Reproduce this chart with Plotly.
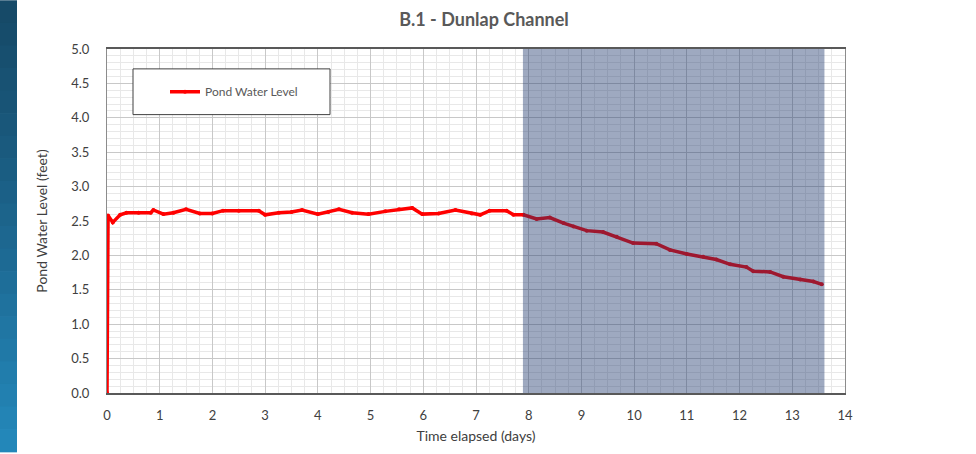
"""Nível de água da lagoa - B.1 Dunlap Channel."""
import plotly.graph_objects as go

# dias decorridos e nível (pés)
days = [0.0, 0.02, 0.11, 0.25, 0.37, 0.6, 0.83, 0.88, 1.07, 1.26, 1.5, 1.76,
        2.0, 2.2, 2.5, 2.88, 3.0, 3.26, 3.5, 3.7, 4.0, 4.2, 4.4, 4.65, 4.96,
        5.28, 5.54, 5.79, 5.98, 6.29, 6.61, 6.92, 7.08, 7.26, 7.58, 7.71,
        7.9, 8.15, 8.4, 8.66, 8.85, 9.1, 9.41, 9.67, 9.98, 10.42, 10.68,
        11.0, 11.31, 11.56, 11.82, 12.13, 12.26, 12.58, 12.83, 13.15, 13.4,
        13.56]
level = [0.0, 2.58, 2.48, 2.59, 2.62, 2.62, 2.62, 2.66, 2.60, 2.62, 2.67, 2.61,
         2.61, 2.65, 2.65, 2.65, 2.59, 2.62, 2.63, 2.66, 2.60, 2.63, 2.67, 2.62,
         2.60, 2.64, 2.67, 2.69, 2.60, 2.61, 2.66, 2.61, 2.59, 2.65, 2.65,
         2.59, 2.59, 2.53, 2.55, 2.47, 2.42, 2.36, 2.34, 2.27, 2.18, 2.17,
         2.08, 2.02, 1.98, 1.94, 1.87, 1.83, 1.77, 1.76, 1.69, 1.65, 1.62,
         1.58]

# período destacado (dias)
shade_start = 7.89
shade_end = 13.61

# faixa azul do slide, de cima para baixo
strip_colors = ["#164a68", "#164c6b", "#174f6f", "#185273", "#185476",
                "#19577a", "#1a5a7e", "#1a5d82", "#1b6087", "#1c648b",
                "#1d6790", "#1d6a94", "#1e6e99", "#1f729e", "#2076a3",
                "#2079a7", "#217dac", "#2280b0", "#2384b5", "#2387b9"]

fig = go.Figure()
fig.add_trace(go.Scatter(
    x=days, y=level, mode="lines+markers", name="Pond Water Level",
    line=dict(color="#ff0000", width=3.5),
    marker=dict(color="#ff0000", size=4),
))

# faixa do slide à esquerda
top, bottom = 395 / 346, -59 / 346
step = (top - bottom) / len(strip_colors)
for i, c in enumerate(strip_colors):
    fig.add_shape(type="rect", xref="paper", yref="paper",
                  x0=-107 / 738, x1=-90 / 738,
                  y0=top - (i + 1) * step - 0.002, y1=top - i * step,
                  fillcolor=c, line_width=0, layer="below")

# período sombreado
fig.add_shape(type="rect", xref="x", yref="paper",
              x0=shade_start, x1=shade_end, y0=0, y1=1,
              fillcolor="rgba(30,55,110,0.43)", line_width=0, layer="above")

# caixa da legenda
fig.add_shape(type="rect", xref="paper", yref="paper",
              x0=26 / 738, x1=223 / 738, y0=280 / 346, y1=326 / 346,
              fillcolor="white", line=dict(color="#404040", width=1),
              layer="above")

fig.update_layout(
    width=976, height=454,
    margin=dict(l=107, r=131, t=49, b=59),
    paper_bgcolor="white", plot_bgcolor="white",
    font=dict(family="Lato", size=13, color="#404040"),
    title=dict(text="<b>B.1 - Dunlap Channel</b>", x=484 / 976, xanchor="center",
               y=1 - 20 / 454, yanchor="middle",
               font=dict(size=18, color="#595959")),
    showlegend=True,
    legend=dict(x=58 / 738, y=(395 - 92) / 346, xanchor="left", yanchor="middle",
                bgcolor="rgba(0,0,0,0)", borderwidth=0,
                font=dict(size=12, color="#595959")),
)
fig.update_xaxes(
    range=[0, 14], dtick=1, tick0=0,
    showline=True, linecolor="#595959", linewidth=1.5, mirror=True,
    showgrid=True, gridcolor="#c8c8c8", gridwidth=1, zeroline=False,
    minor=dict(dtick=0.25, showgrid=True, gridcolor="#e8e8e8"),
    ticks="", ticklabelstandoff=10,
    title=dict(text="Time elapsed (days)", font=dict(size=14), standoff=9),
)
fig.update_yaxes(
    range=[0, 5], dtick=0.5, tick0=0, tickformat=".1f",
    showline=True, linecolor="#8c8c8c", linewidth=1, mirror=True,
    showgrid=True, gridcolor="#c8c8c8", gridwidth=1, zeroline=False,
    minor=dict(dtick=0.1, showgrid=True, gridcolor="#e8e8e8"),
    ticks="", ticklabelstandoff=14,
    title=dict(text="Pond Water Level (feet)", font=dict(size=14), standoff=20),
)

# sem margem do body, para a figura começar no canto da janela
fig.write_html("out.html", config={"displayModeBar": False},
               post_script="document.body.style.margin = '0';")
